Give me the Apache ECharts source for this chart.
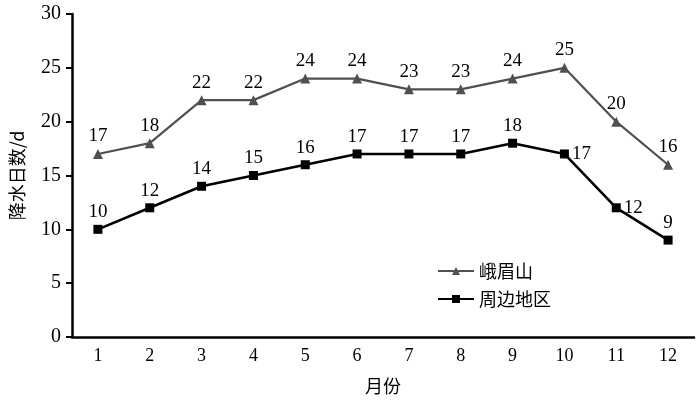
<!DOCTYPE html>
<html><head><meta charset="utf-8">
<script src="https://cdn.jsdelivr.net/npm/echarts@6/dist/echarts.min.js"></script>
<style>html,body{margin:0;padding:0;background:#fff}#c{width:700px;height:404px}</style>
</head><body><div id="c"></div>
<script>
const months = ['1','2','3','4','5','6','7','8','9','10','11','12'];
const emeiValues = [17,18,22,22,24,24,23,23,24,25,20,16];
const nearbyValues = [10,12,14,15,16,17,17,17,18,17,12,9];
const yTicks = [0,5,10,15,20,25,30];
const font = '"Liberation Serif","Noto Sans CJK SC",serif';
const cjk = '"Noto Sans CJK SC","Liberation Serif",sans-serif';
const emeiPos = ['top','top','top','top','top','top','top','top','top','top','top','top'];
const nearbyPos = ['top','top','top','top','top','top','top','top','top','right','right','top'];
const chart = echarts.init(document.getElementById('c'));
chart.setOption({
  animation:false,
  grid:{left:71,right:6,top:14,bottom:67},
  legend:{orient:'vertical',left:432,top:257,itemWidth:36,itemHeight:10,itemGap:10,
    textStyle:{fontFamily:cjk,fontSize:18,color:'#000'},
    data:['峨眉山','周边地区']},
  xAxis:{type:'category',data:months,boundaryGap:true,
    name:'月份',nameLocation:'middle',nameGap:40,
    nameTextStyle:{fontFamily:cjk,fontSize:18,color:'#000'},
    axisLine:{lineStyle:{color:'#000',width:2.5}},
    axisTick:{alignWithLabel:true,length:6,lineStyle:{color:'#000',width:2}},
    axisLabel:{fontFamily:font,fontSize:18,color:'#000',margin:10}},
  yAxis:{type:'value',min:0,max:30,interval:5,
    name:'降水日数/d',nameLocation:'middle',nameGap:46,nameRotate:90,
    nameTextStyle:{fontFamily:cjk,fontSize:18,color:'#000'},
    splitLine:{show:false},
    axisLine:{show:true,lineStyle:{color:'#000',width:2.5}},
    axisTick:{show:true,length:6,lineStyle:{color:'#000',width:2}},
    axisLabel:{fontFamily:font,fontSize:20,color:'#000',margin:11,
      formatter:v=>yTicks.includes(v)?String(v):''}},
  series:[
    {name:'峨眉山',type:'line',data:emeiValues.map((v,i)=>({value:v,label:{position:emeiPos[i]}})),
      symbol:'triangle',symbolSize:10,
      lineStyle:{color:'#505050',width:2.2},itemStyle:{color:'#505050'},
      label:{show:true,fontFamily:font,fontSize:19,color:'#000',distance:3}},
    {name:'周边地区',type:'line',data:nearbyValues.map((v,i)=>({value:v,label:{position:nearbyPos[i]}})),
      symbol:'rect',symbolSize:9,
      lineStyle:{color:'#000',width:2.6},itemStyle:{color:'#000'},
      label:{show:true,fontFamily:font,fontSize:19,color:'#000',distance:3}}
  ]
});
</script></body></html>
